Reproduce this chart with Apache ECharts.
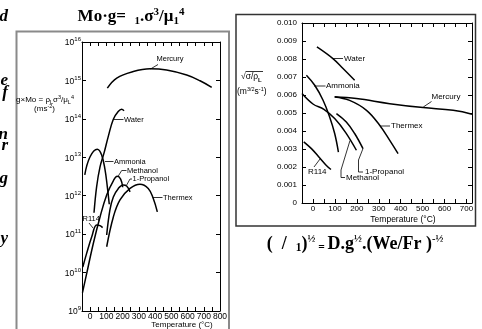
<!DOCTYPE html>
<html><head><meta charset="utf-8">
<script src="https://cdn.jsdelivr.net/npm/echarts/dist/echarts.min.js"></script>
<style>html,body{margin:0;padding:0;background:#fff}#c{width:482px;height:329px}</style>
</head><body><div id="c"></div>
<script>
// ---------- Left chart: g×Mo (log scale) vs temperature (°C) ----------
const moMercury  = [[106,6.3e14],[164,1.15e15],[266,1.7e15],[369,2.0e15],[471,1.86e15],[595,1.38e15],[677,9.8e14],[749,6.6e14]];
const moWater    = [[24,3.6e11],[40,1.7e12],[61,5.6e12],[85,1.26e13],[112,3.5e13],[143,9.8e13],[173,1.55e14],[194,1.78e14],[209,1.62e14]];
const moAmmonia  = [[-33,3.5e12],[-1,1.02e13],[44,1.62e13],[71,1.15e13],[92,4.7e12],[106,1.7e12],[118,6.0e11]];
const moR114     = [[-45,1.4e10],[-21,3.2e10],[10,8.5e10],[40,1.74e11],[61,1.66e11],[77,1.48e11]];
const moMethanol = [[-47,3.0e9],[-21,9.5e9],[20,5.8e10],[61,2.8e11],[102,1.05e12],[143,2.45e12],[167,3.2e12],[188,2.7e12],[201,1.66e12]];
const moPropanol = [[102,9.5e10],[122,4.3e11],[143,9.3e11],[174,1.55e12],[204,1.9e12],[225,1.78e12],[246,1.26e12]];
const moThermex  = [[102,4.7e10],[143,2.8e11],[184,7.8e11],[246,1.55e12],[307,2.0e12],[358,1.55e12],[389,8.5e11],[414,3.8e11]];

// ---------- Right chart: sqrt(sigma/rho_L) vs temperature (°C) ----------
const sqWater    = [[18,0.00867],[91,0.00802],[137,0.00747],[190,0.00682]];
const sqAmmonia  = [[-30,0.0071],[8,0.00654],[46,0.00571],[76,0.00478],[99,0.00386],[116,0.00283]];
const sqMethanol = [[-50,0.00608],[0,0.0055],[50,0.0052],[100,0.00468],[150,0.0039],[198,0.00293]];
const sqPropanol = [[107,0.00497],[152,0.0045],[190,0.00386],[228,0.00302]];
const sqR114     = [[-42,0.0034],[-7,0.00302],[31,0.0025],[60,0.0021],[82,0.00186]];
const sqThermex  = [[99,0.00589],[167,0.0057],[244,0.00515],[304,0.00432],[350,0.00348],[388,0.00274]];
const sqMercury  = [[99,0.0059],[198,0.0058],[350,0.00552],[502,0.0053],[639,0.00515],[725,0.00493]];

const FONT = 'Liberation Sans, Arial, sans-serif';
const SERIF = 'Liberation Serif, Times New Roman, serif';

function mk(name, data, xi, yi) {
  return { name, type: 'line', xAxisIndex: xi, yAxisIndex: yi, data, smooth: 0.4,
    showSymbol: false, silent: true, lineStyle: { color: '#000', width: 1.5 } };
}
const tickIn = { show: true, inside: true, length: 4, lineStyle: { color: '#000', width: 1 } };
const lineBlk = { show: true, onZero: false, lineStyle: { color: '#000', width: 1 } };

const chart = echarts.init(document.getElementById('c'));
chart.setOption({
  animation: false,
  backgroundColor: '#fff',
  grid: [
    { left: 82, top: 42, width: 138, height: 269 },
    { left: 302, top: 23, width: 170, height: 180 }
  ],
  xAxis: [
    { gridIndex: 0, type: 'value', min: -50, max: 800, interval: 50, position: 'bottom',
      axisLine: lineBlk, axisTick: tickIn, splitLine: { show: false },
      axisLabel: { margin: 1, fontSize: 8.5, fontFamily: FONT, color: '#000', showMinLabel: true, showMaxLabel: true,
        formatter: v => (v >= 0 && v % 100 === 0) ? String(v) : '' } },
    { gridIndex: 0, type: 'value', min: -50, max: 800, interval: 50, position: 'top',
      axisLine: lineBlk, axisTick: tickIn, axisLabel: { show: false }, splitLine: { show: false } },
    { gridIndex: 1, type: 'value', min: -50, max: 725, interval: 50, position: 'bottom',
      axisLine: lineBlk, axisTick: tickIn, splitLine: { show: false },
      axisLabel: { margin: 2, fontSize: 8, fontFamily: FONT, color: '#000', showMinLabel: true, showMaxLabel: false,
        formatter: v => (v >= 0 && v % 100 === 0) ? String(v) : '' } },
    { gridIndex: 1, type: 'value', min: -50, max: 725, interval: 50, position: 'top',
      axisLine: lineBlk, axisTick: tickIn, axisLabel: { show: false }, splitLine: { show: false } }
  ],
  yAxis: [
    { gridIndex: 0, type: 'log', logBase: 10, min: 1e9, max: 1e16, position: 'left',
      axisLine: lineBlk, axisTick: tickIn, splitLine: { show: false },
      axisLabel: { margin: 1, color: '#000', showMinLabel: true, showMaxLabel: true,
        formatter: v => '{b|10}{s|' + Math.round(Math.log10(v)) + '}',
        rich: { b: { fontSize: 8.5, fontFamily: FONT, lineHeight: 11, verticalAlign: 'bottom', color: '#000' },
                s: { fontSize: 6, fontFamily: FONT, lineHeight: 7, verticalAlign: 'top', color: '#000' } } } },
    { gridIndex: 0, type: 'log', logBase: 10, min: 1e9, max: 1e16, position: 'right',
      axisLine: lineBlk, axisTick: tickIn, axisLabel: { show: false }, splitLine: { show: false } },
    { gridIndex: 1, type: 'value', min: 0, max: 0.010, interval: 0.001, position: 'left',
      axisLine: lineBlk, axisTick: tickIn, splitLine: { show: false },
      axisLabel: { margin: 5, fontSize: 8, fontFamily: FONT, color: '#000', showMinLabel: true, showMaxLabel: true,
        formatter: v => (Math.abs(v) < 1e-9) ? '0' : v.toFixed(3) } },
    { gridIndex: 1, type: 'value', min: 0, max: 0.010, interval: 0.001, position: 'right',
      axisLine: lineBlk, axisTick: tickIn, axisLabel: { show: false }, splitLine: { show: false } }
  ],
  series: [
    mk('Mercury', moMercury, 0, 0), mk('Water', moWater, 0, 0), mk('Ammonia', moAmmonia, 0, 0),
    mk('R114', moR114, 0, 0), mk('Methanol', moMethanol, 0, 0), mk('1-Propanol', moPropanol, 0, 0),
    mk('Thermex', moThermex, 0, 0),
    mk('Water', sqWater, 2, 2), mk('Ammonia', sqAmmonia, 2, 2), mk('Methanol', sqMethanol, 2, 2),
    mk('1-Propanol', sqPropanol, 2, 2), mk('R114', sqR114, 2, 2), mk('Thermex', sqThermex, 2, 2),
    mk('Mercury', sqMercury, 2, 2)
  ]
});

// ---------- annotations / decorations ----------
const G = [];
function txt(t, x, y, size, align, extra) {
  G.push(Object.assign({ type: 'text', silent: true, style: { text: t, x, y, fill: '#000',
    font: size + 'px ' + FONT, align: align || 'left', verticalAlign: 'middle' } }, extra || {}));
}
function ln(pts, w) {
  G.push({ type: 'polyline', silent: true, shape: { points: pts }, style: { stroke: '#000', lineWidth: w || 0.8, fill: null } });
}
// frames
G.push({ type: 'rect', silent: true, shape: { x: 16.5, y: 31.5, width: 212.5, height: 320 },
  style: { fill: null, stroke: '#8a8a8a', lineWidth: 2 } });
G.push({ type: 'rect', silent: true, shape: { x: 236, y: 14.5, width: 239.5, height: 211.5 },
  style: { fill: null, stroke: '#333', lineWidth: 1.5 } });

// left chart series labels
txt('Mercury', 170, 59, 7.5, 'center'); ln([[158, 64.5], [150.5, 69]]);
txt('Water', 124, 119.5, 7.5); ln([[114, 119.5], [123.5, 119.5]]);
txt('Ammonia', 114, 161.5, 7.5); ln([[105, 161.5], [113.5, 161.5]]);
txt('Methanol', 127, 170.5, 7.5); ln([[118.3, 176], [121.7, 170.5], [126.5, 170.5]]);
txt('1-Propanol', 132.5, 179, 7.5); ln([[126.7, 185], [130, 179], [132, 179]]);
txt('Thermex', 163, 197.5, 7.5); ln([[152.7, 197.5], [162.5, 197.5]]);
txt('R114', 82.5, 218.5, 7.5); ln([[89, 223], [93, 228]]);

// right chart series labels
txt('Water', 344, 58.5, 8); ln([[332.7, 58.5], [343, 58.5]]);
txt('Ammonia', 326, 86, 8); ln([[314, 86], [325.5, 86]]);
txt('Mercury', 431.5, 96.5, 8); ln([[431.5, 101.5], [423.3, 107]]);
txt('Thermex', 391, 126, 8); ln([[380, 126], [390, 126]]);
txt('1-Propanol', 365, 172, 8); ln([[363, 148.5], [358.5, 160], [358.5, 172], [363, 172]]);
txt('Methanol', 346, 177.5, 8); ln([[350, 140.5], [341, 170], [341, 177.5], [345, 177.5]]);
txt('R114', 308, 172, 8); ln([[314, 167], [320, 159]]);

// axis names
txt('Temperature (°C)', 182, 324.5, 8, 'center');
txt('Temperature (°C)', 403, 220, 8.5, 'center');

// left y-axis title
const supR = { fontSize: 5.5, fontFamily: FONT, lineHeight: 6, verticalAlign: 'top', fill: '#000' };
const subR = { fontSize: 5.5, fontFamily: FONT, lineHeight: 6, verticalAlign: 'bottom', fill: '#000' };
G.push({ type: 'text', silent: true, style: { x: 45, y: 99.5, align: 'center', verticalAlign: 'middle',
  text: '{m|g×Mo = ρ}{b|L}{m|σ}{p|3}{m|/μ}{b|L}{p|4}',
  rich: { m: { fontSize: 8, fontFamily: FONT, lineHeight: 11, verticalAlign: 'middle', fill: '#000' }, p: supR, b: subR } } });
G.push({ type: 'text', silent: true, style: { x: 44.5, y: 109, align: 'center', verticalAlign: 'middle',
  text: '{m|(ms}{p|-2}{m|)}',
  rich: { m: { fontSize: 8, fontFamily: FONT, lineHeight: 11, verticalAlign: 'middle', fill: '#000' }, p: supR } } });

// right y-axis title
G.push({ type: 'text', silent: true, style: { x: 241, y: 77, align: 'left', verticalAlign: 'middle',
  text: '{m|√σ/ρ}{b|L}',
  rich: { m: { fontSize: 8.5, fontFamily: FONT, lineHeight: 12, verticalAlign: 'middle', fill: '#000' },
          b: { fontSize: 6, fontFamily: FONT, fontWeight: 'bold', lineHeight: 7, verticalAlign: 'bottom', fill: '#000' } } } });
ln([[245.5, 71.5], [263, 71.5]], 0.8);
G.push({ type: 'text', silent: true, style: { x: 237, y: 92, align: 'left', verticalAlign: 'middle',
  text: '{m|(m}{p|3/2}{m|s}{p|-1}{m|)}',
  rich: { m: { fontSize: 8.5, fontFamily: FONT, lineHeight: 12, verticalAlign: 'middle', fill: '#000' },
          p: { fontSize: 5.5, fontFamily: FONT, lineHeight: 7, verticalAlign: 'top', fill: '#000' } } } });

// title formula (left)
const mS = { fontSize: 17, fontWeight: 'bold', fontFamily: SERIF, lineHeight: 20, verticalAlign: 'middle', fill: '#000' };
const spS = { fontSize: 11, fontWeight: 'bold', fontFamily: SERIF, lineHeight: 14, verticalAlign: 'top', fill: '#000' };
const sbS = { fontSize: 11, fontWeight: 'bold', fontFamily: SERIF, lineHeight: 11, verticalAlign: 'bottom', fill: '#000' };
G.push({ type: 'text', silent: true, style: { x: 131, y: 17, align: 'center', verticalAlign: 'middle',
  text: '{m|Mo·g=  }{b|1}{m|.σ}{p|3}{m|/μ}{b|1}{p|4}', rich: { m: mS, p: spS, b: sbS } } });

// bottom formula (right)
const mS2 = Object.assign({}, mS, { fontSize: 18, lineHeight: 21 });
const spS2 = { fontSize: 10.5, fontWeight: 'bold', fontFamily: SERIF, lineHeight: 13, verticalAlign: 'top', fill: '#000' };
const sbS2 = { fontSize: 11.5, fontWeight: 'bold', fontFamily: SERIF, lineHeight: 11, verticalAlign: 'bottom', fill: '#000' };
G.push({ type: 'text', silent: true, style: { x: 355, y: 244, align: 'center', verticalAlign: 'middle',
  text: '{m|(  /  }{b|1}{m|)}{p|½}{b| = }{m|D.g}{p|½}{m|.(We/Fr )}{p|-½}', rich: { m: mS2, p: spS2, b: sbS2 } } });

// clipped text fragments at the far left edge
const frag = [['d', 17], ['e', 81], ['f', 93], ['n', 135], ['r', 146], ['g', 179], ['y', 239]];
frag.forEach(([c, y]) => G.push({ type: 'text', silent: true, style: { text: c, x: 8, y, align: 'right',
  verticalAlign: 'middle', fill: '#000', font: 'bold italic 17px ' + SERIF } }));

chart.setOption({ graphic: { elements: G } });
</script></body></html>
